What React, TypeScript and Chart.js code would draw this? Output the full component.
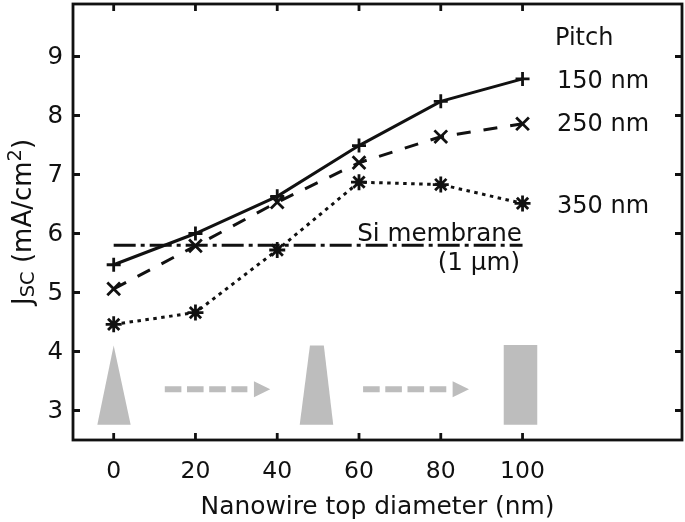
import React, { useEffect, useRef } from "react";
import { Chart, registerables } from "chart.js";

Chart.register(...registerables);

const diameters = [0, 20, 40, 60, 80, 100];
const pitch150 = [5.47, 6.0, 6.63, 7.49, 8.24, 8.62];
const pitch250 = [5.06, 5.79, 6.53, 7.2, 7.64, 7.86];
const pitch350 = [4.46, 4.66, 5.72, 6.87, 6.83, 6.51];
const membrane = [5.8, 5.8, 5.8, 5.8, 5.8, 5.8];
const xTicks = [0, 20, 40, 60, 80, 100];
const yTicks = [3, 4, 5, 6, 7, 8, 9];

const triangle = [[-4, 2.76], [0, 4.1], [4.15, 2.76]];
const trapezoid = [[45.5, 2.76], [48, 4.1], [51.4, 4.1], [53.7, 2.76]];
const rectangle = [[95.4, 2.76], [95.4, 4.11], [103.6, 4.11], [103.6, 2.76]];
const arrowShafts = [[12.5, 32.7], [61, 81.4]];
const arrowHeads = [[34.3, 38.3], [82.9, 86.9]];
const arrowY = 3.36;

const FONT = '"DejaVu Sans"';
const GREY = "#bdbdbd";
const INK = "#111111";

const paperPlugin = {
  id: "paper",
  beforeDatasetsDraw(chart: any) {
    const { ctx, scales } = chart;
    const x = scales.x;
    const y = scales.y;
    ctx.save();
    ctx.fillStyle = GREY;
    for (const poly of [triangle, trapezoid, rectangle]) {
      ctx.beginPath();
      poly.forEach(([a, b], i) => {
        const px = x.getPixelForValue(a);
        const py = y.getPixelForValue(b);
        if (i === 0) ctx.moveTo(px, py);
        else ctx.lineTo(px, py);
      });
      ctx.closePath();
      ctx.fill();
    }
    const ay = y.getPixelForValue(arrowY);
    ctx.strokeStyle = GREY;
    ctx.lineWidth = 6;
    ctx.setLineDash([16.6, 5.6]);
    arrowShafts.forEach(([a, b]) => {
      ctx.beginPath();
      ctx.moveTo(x.getPixelForValue(a), ay);
      ctx.lineTo(x.getPixelForValue(b), ay);
      ctx.stroke();
    });
    ctx.setLineDash([]);
    arrowHeads.forEach(([a, b]) => {
      ctx.beginPath();
      ctx.moveTo(x.getPixelForValue(a), ay - 8);
      ctx.lineTo(x.getPixelForValue(b), ay);
      ctx.lineTo(x.getPixelForValue(a), ay + 8);
      ctx.closePath();
      ctx.fill();
    });
    ctx.restore();
  },
  afterDraw(chart: any) {
    const { ctx, chartArea: a, scales } = chart;
    const x = scales.x;
    const y = scales.y;
    ctx.save();
    ctx.strokeStyle = INK;
    ctx.lineWidth = 2.8;
    ctx.strokeRect(a.left, a.top, a.right - a.left, a.bottom - a.top);
    ctx.beginPath();
    const tick = 7;
    x.ticks.forEach((t: any) => {
      const px = x.getPixelForValue(t.value);
      ctx.moveTo(px, a.bottom);
      ctx.lineTo(px, a.bottom - tick);
      ctx.moveTo(px, a.top);
      ctx.lineTo(px, a.top + tick);
    });
    y.ticks.forEach((t: any) => {
      const py = y.getPixelForValue(t.value);
      ctx.moveTo(a.left, py);
      ctx.lineTo(a.left + tick, py);
      ctx.moveTo(a.right, py);
      ctx.lineTo(a.right - tick, py);
    });
    ctx.stroke();

    ctx.fillStyle = INK;
    ctx.font = `24px ${FONT}`;
    ctx.textBaseline = "alphabetic";
    ctx.textAlign = "left";
    ctx.fillText("Pitch", 555, 45);
    ctx.fillText("150 nm", 557, 88);
    ctx.fillText("250 nm", 557, 131);
    ctx.fillText("350 nm", 557, 213);
    ctx.textAlign = "right";
    ctx.font = `24.6px ${FONT}`;
    ctx.fillText("Si membrane", 522, 241);
    ctx.fillText("(1 µm)", 520, 270);

    ctx.save();
    ctx.translate(31, 305);
    ctx.rotate(-Math.PI / 2);
    ctx.textAlign = "left";
    ctx.font = `26px ${FONT}`;
    ctx.fillText("J", 0, 0);
    let adv = ctx.measureText("J").width;
    ctx.font = `19.5px ${FONT}`;
    ctx.fillText("SC", adv, 3);
    adv += ctx.measureText("SC").width;
    ctx.font = `26px ${FONT}`;
    ctx.fillText(" (mA/cm", adv, 0);
    adv += ctx.measureText(" (mA/cm").width;
    ctx.font = `19.5px ${FONT}`;
    ctx.fillText("2", adv, -10);
    adv += ctx.measureText("2").width;
    ctx.font = `26px ${FONT}`;
    ctx.fillText(")", adv, 0);
    ctx.restore();
    ctx.restore();
  },
};

export default function App() {
  const ref = useRef<HTMLCanvasElement>(null);
  useEffect(() => {
    const line = (label: string, data: number[], dash: number[], style: string | false, r: number) => ({
      label,
      data,
      borderColor: INK,
      backgroundColor: INK,
      borderWidth: 3,
      borderDash: dash,
      pointStyle: style,
      pointRadius: style ? r : 0,
      pointBorderWidth: 2.8,
      pointBorderColor: INK,
      tension: 0,
      fill: false,
    });
    const chart = new Chart(ref.current!, {
      type: "line",
      plugins: [paperPlugin],
      data: {
        labels: diameters,
        datasets: [
          line("Si membrane", membrane, [22, 5, 4, 5], false, 0),
          line("150 nm", pitch150, [], "cross", 7),
          line("250 nm", pitch250, [14, 13], "crossRot", 9),
          line("350 nm", pitch350, [3.5, 4.5], "star", 8),
        ].map((d) => ({ ...d, data: d.data.map((v: number, i: number) => ({ x: diameters[i], y: v })) })) as any,
      },
      options: {
        animation: false,
        responsive: false,
        devicePixelRatio: 1,
        parsing: false as any,
        layout: { autoPadding: false, padding: { top: 4, right: 3, left: 0, bottom: 0 } },
        plugins: { legend: { display: false }, tooltip: { enabled: false } },
        scales: {
          x: {
            type: "linear",
            min: -9.95,
            max: 139,
            grid: { display: false, drawTicks: false },
            border: { display: false },
            afterBuildTicks: (s: any) => {
              s.ticks = xTicks.map((value) => ({ value }));
            },
            afterFit: (s: any) => {
              s.height = 82;
              s.paddingLeft = 0;
              s.paddingRight = 0;
            },
            ticks: {
              color: INK,
              padding: 18,
              maxRotation: 0,
              autoSkip: false,
              font: { family: FONT, size: 23.5 },
            },
            title: {
              display: true,
              text: "Nanowire top diameter (nm)",
              color: INK,
              font: { family: FONT, size: 24.9 },
              padding: { top: 0, bottom: 0 },
            },
          },
          y: {
            type: "linear",
            min: 2.5,
            max: 9.89,
            grid: { display: false, drawTicks: false },
            border: { display: false },
            afterBuildTicks: (s: any) => {
              s.ticks = yTicks.map((value) => ({ value }));
            },
            afterFit: (s: any) => {
              s.width = 73;
              s.paddingTop = 0;
              s.paddingBottom = 0;
            },
            ticks: {
              color: INK,
              padding: 10,
              labelOffset: 1.5,
              font: { family: FONT, size: 24.5 },
            },
          },
        },
      },
    });
    return () => chart.destroy();
  }, []);
  return (
    <div style={{ position: "absolute", left: 0, top: 0, width: 685, height: 522 }}>
      <canvas ref={ref} width={685} height={522} style={{ display: "block" }} />
    </div>
  );
}
